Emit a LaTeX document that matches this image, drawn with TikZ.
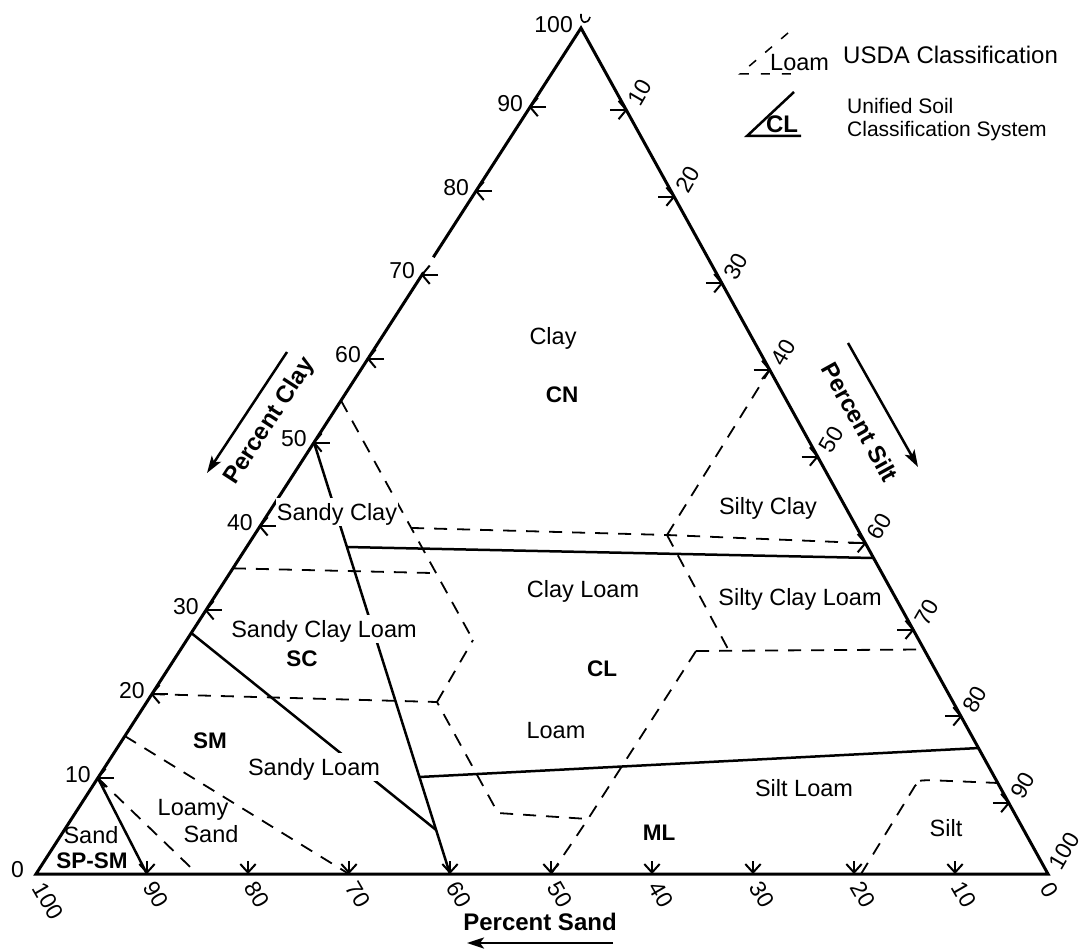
\documentclass[tikz,border=0pt]{standalone}
\usepackage{fontspec}
\setmainfont{Liberation Sans}
\usetikzlibrary{arrows.meta,calc}

\begin{document}
\begin{tikzpicture}[x=1pt,y=-1pt,
  edge/.style={line width=3pt, line join=miter},
  uscs/.style={line width=2.5pt},
  usda/.style={line width=1.8pt, dash pattern=on 13pt off 10pt},
  tickmark/.style={line width=2pt, line join=round},
  region/.style={font=\fontsize{23.5}{26}\selectfont, inner sep=0pt, text height=16.8pt, text depth=0pt},
  regionbg/.style={region, fill=white, inner xsep=1pt, inner ysep=6pt},
  group/.style={font=\bfseries\fontsize{22.5}{26}\selectfont, inner sep=0pt, text height=16.1pt, text depth=0pt},
  num/.style={font=\fontsize{23}{26}\selectfont, inner sep=0pt, text height=16.5pt, text depth=0pt},
  axistitle/.style={font=\bfseries\fontsize{24}{28}\selectfont, inner sep=0pt, text height=17.2pt, text depth=0pt},
  axisarrow/.style={line width=2.5pt, -{Stealth[length=17pt,width=11pt,inset=4pt]}},
  legendtext/.style={font=\fontsize{21}{24}\selectfont, inner sep=0pt, text height=15pt, text depth=0pt, anchor=west},
]
\useasboundingbox (0,0) rectangle (1083,949);

% corners: 100 % sand, 100 % silt, 100 % clay
\coordinate (L) at (36,874);
\coordinate (R) at (1048,874);
\coordinate (T) at (581,28);

% outline (with the small break just above the clay-70 mark)
\draw[edge] ($(L)!0.711!(T)$) -- (L) -- (R) -- (T) -- ($(L)!0.729!(T)$);
\draw[line width=1.6pt] (581,14) .. controls (580,24) and (588,25) .. (590,17);

% percent clay marks on the left side (arrows pointing at the side)
\foreach \c in {10,20,...,90}{
  \pgfmathsetmacro\ty{778-8.3875*(\c-10)}
  \pgfmathsetmacro\tx{36+(874-\ty)/846*545}
  \coordinate (clay\c) at (\tx,\ty);
  \draw[tickmark] ($(clay\c)+(16,0)$) -- (clay\c);
  \draw[tickmark] ($(clay\c)+(7.7,-9.2)$) -- (clay\c) -- ($(clay\c)+(7.7,9.2)$);
  \node[num, anchor=east] (clayLabel\c) at ($(clay\c)+(-7,-4)$) {\c};
}
% percent silt marks on the right side
\foreach \s in {10,20,...,90}{
  \pgfmathsetmacro\ty{110+8.6625*(\s-10)}
  \pgfmathsetmacro\tx{581+(\ty-28)/846*467}
  \coordinate (silt\s) at (\tx,\ty);
  \draw[tickmark] ($(silt\s)+(-16,0)$) -- (silt\s);
  \draw[tickmark] ($(silt\s)+(-7.7,-9.2)$) -- (silt\s) -- ($(silt\s)+(-7.7,9.2)$);
  \node[num, anchor=west, rotate=60] (siltLabel\s) at ($(silt\s)+(7,-6)$) {\s};
}
% percent sand marks along the base
\foreach \s in {10,20,...,90}{
  \pgfmathsetmacro\tx{147+(90-\s)*10.1}
  \coordinate (sand\s) at (\tx,874);
  \draw[tickmark] ($(sand\s)+(0,-13)$) -- (sand\s);
  \draw[tickmark] ($(sand\s)+(-7.7,-10)$) -- ($(sand\s)+(0,-1.5)$) -- ($(sand\s)+(7.7,-10)$);
  \node[num, anchor=west, rotate=-60] (sandLabel\s) at ($(sand\s)+(3,9)$) {\s};
}
% corner values
\node[num, anchor=east] (clayZero) at (24,869.5) {0};
\node[num, anchor=west, rotate=-60] (sandHundred) at (39,884) {100};
\node[num, anchor=east] (clayHundred) at (573,24) {100};
\node[num, anchor=west, rotate=60] (siltHundred) at (1054,868) {100};
\node[num, anchor=west, rotate=-60] (sandZero) at (1047,884.5) {0};

% helper points
\coordinate (clay15) at ($(clay10)!0.5!(clay20)$);
\coordinate (clay35) at ($(clay30)!0.5!(clay40)$);
\coordinate (clay55) at ($(clay50)!0.5!(clay60)$);
\coordinate (sand85) at ($(sand90)!0.5!(sand80)$);
\coordinate (A52c20) at (437,702);
\coordinate (A52c7) at (498,813);
\coordinate (A43c7) at (588,819);
\coordinate (A23c27) at (696,651);
\coordinate (A20c27) at (729,650.8);
\coordinate (A45c27) at (473,640);
\coordinate (A45c40) at ($(clay55)!0.532!(A45c27)$);
\coordinate (A45c35) at ($(clay55)!0.7206!(A45c27)$);
\coordinate (A20c40) at (667,535);
\coordinate (R27) at ($(T)!0.7346!(R)$);
\coordinate (R12) at ($(T)!0.8924!(R)$);
\coordinate (S20base) at (861,874);
\coordinate (S8c12) at (918,781);
\coordinate (S8c12b) at (926,780);

% Unified Soil Classification System boundaries (solid)
\draw[uscs] (clay10) -- (sand90);
\draw[uscs] (clay50) -- (sand60);
\draw[uscs] ($(L)!0.2849!(T)$) -- ($(clay50)!0.898!(sand60)$);
\draw[uscs] ($(clay50)!0.2422!(sand60)$) -- ($(T)!0.6265!(R)$);
\draw[uscs] ($(clay50)!0.7752!(sand60)$) -- ($(T)!0.8511!(R)$);

% USDA texture class boundaries (dashed)
\draw[usda] (clay10) -- (sand85);
\draw[usda] (clay15) -- (sand70);
\draw[usda] (clay20) -- (A52c20) -- (A52c7) -- (A43c7);
\draw[usda] (sand50) -- (A43c7) -- (A23c27);
\draw[usda] (A52c20) -- (A45c27);
\draw[usda] (clay55) -- (A45c27);
\draw[usda] (clay35) -- (A45c35);
\draw[usda] (A45c40) -- (A20c40) -- (silt60);
\draw[usda] (A20c40) -- (silt40);
\draw[usda] (A20c40) -- (A20c27);
\draw[usda] (A23c27) -- (R27);
\draw[usda, rounded corners=6pt] (S20base) -- (S8c12) -- (S8c12b) -- (R12);

% class names
\node[region] (tClay) at (553,336) {Clay};
\node[group] (gCN) at (562,394) {CN};
\node[region] (tSiltyClay) at (768,506) {Silty Clay};
\node[regionbg] (tSandyClay) at (337,512) {Sandy Clay};
\node[region] (tClayLoam) at (583,589) {Clay Loam};
\node[region] (tSiltyClayLoam) at (800,597) {Silty Clay Loam};
\node[regionbg] (tSandyClayLoam) at (324,629) {Sandy Clay Loam};
\node[group] (gSC) at (302,658) {SC};
\node[group] (gCL) at (602,668) {CL};
\node[region] (tLoam) at (556,730) {Loam};
\node[group] (gSM) at (210,740) {SM};
\node[regionbg] (tSandyLoam) at (314,767) {Sandy Loam};
\node[region] (tSiltLoam) at (804,788) {Silt Loam};
\node[region] (tLoamy) at (193,807) {Loamy};
\node[region] (tLoamySand) at (211,834) {Sand};
\node[region] (tSand) at (91,835) {Sand};
\node[group] (gSPSM) at (92,860) {SP-SM};
\node[group] (gML) at (659,832) {ML};
\node[region] (tSilt) at (946,828) {Silt};

% axis titles and reading arrows
\node[axistitle, rotate=57] (pClay) at (268,420) {Percent Clay};
\node[axistitle, rotate=-61] (pSilt) at (860,422) {Percent Silt};
\node[axistitle] (pSand) at (540,922) {Percent Sand};
\coordinate (aClayFrom) at (287,352);
\coordinate (aClayTo) at (207,473);
\coordinate (aSiltFrom) at (848,343);
\coordinate (aSiltTo) at (918,467);
\coordinate (aSandFrom) at (613,943);
\coordinate (aSandTo) at (467,943);
\draw[axisarrow] (aClayFrom) -- (aClayTo);
\draw[axisarrow] (aSiltFrom) -- (aSiltTo);
\draw[axisarrow] (aSandFrom) -- (aSandTo);

% legend
\draw[line width=1.5pt, dash pattern=on 9pt off 12pt] (788,33) -- (740,74) -- (802,74);
\node[region, anchor=west] (kLoam) at (770,62) {Loam};
\node[region, font=\fontsize{24}{27}\selectfont, anchor=west] (kUSDA) at (843,55) {USDA Classification};
\draw[uscs] (794,92) -- (747,136) -- (801,136);
\node[group, font=\bfseries\fontsize{24}{27}\selectfont] (kCL) at (782,124) {CL};
\node[legendtext] (kUnified) at (847,106) {Unified Soil};
\node[legendtext] (kSystem) at (847,129) {Classification System};
\end{tikzpicture}
\end{document}
